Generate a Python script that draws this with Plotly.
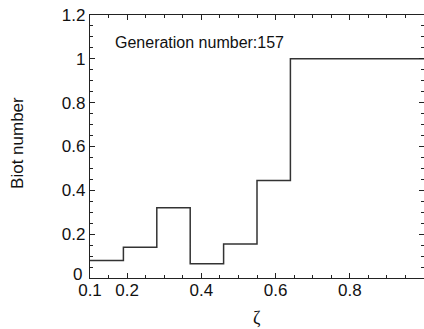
import plotly.graph_objects as go

# Step edges along zeta and the Biot number held on each interval
zeta_edges = [0.1, 0.19, 0.28, 0.37, 0.46, 0.55, 0.64, 1.0]
biot_values = [0.08, 0.14, 0.32, 0.065, 0.155, 0.445, 1.0]

x_tick_vals = [0.1, 0.2, 0.4, 0.6, 0.8, 1.0]
x_tick_text = ["0.1", "0.2", "0.4", "0.6", "0.8", "1"]
y_tick_vals = [0.2, 0.4, 0.6, 0.8, 1.0, 1.2]
y_tick_text = ["0.2", "0.4", "0.6", "0.8", "1", "1.2"]
y_origin_label = "0"

generation = 157

FONT = "Arial, Liberation Sans, Helvetica, sans-serif"

fig = go.Figure()
fig.add_trace(go.Scatter(
    x=zeta_edges,
    y=biot_values + [biot_values[-1]],
    mode="lines",
    line=dict(shape="hv", color="#333333", width=1.5),
    showlegend=False,
    hoverinfo="skip",
))

axis_common = dict(
    showgrid=False, zeroline=False,
    showline=True, linecolor="#222222", linewidth=1.2,
    mirror="ticks", ticks="inside", ticklen=5, tickwidth=1, tickcolor="#222222",
    tickfont=dict(family=FONT, size=17, color="#111111"),
)

fig.update_xaxes(
    range=[0.1, 1.0],
    tickvals=x_tick_vals, ticktext=x_tick_text,
    ticklabelstandoff=-4,
    minor=dict(ticks="inside", ticklen=3, dtick=0.05, tick0=0, tickcolor="#222222"),
    **axis_common,
)
fig.update_yaxes(
    range=[0, 1.2],
    tickvals=y_tick_vals, ticktext=y_tick_text,
    minor=dict(ticks="inside", ticklen=3, dtick=0.05, tick0=0, tickcolor="#222222"),
    **axis_common,
)

# origin label sits slightly up and left of the corner, clear of "0.1"
fig.add_annotation(
    x=0, y=0, xref="paper", yref="y",
    text=y_origin_label, showarrow=False,
    xanchor="right", yanchor="middle", xshift=-6, yshift=4,
    font=dict(family=FONT, size=17, color="#111111"),
)
fig.add_annotation(
    x=0.162, y=1.073, xref="x", yref="y",
    text=f"Generation number:{generation}",
    showarrow=False, xanchor="left", yanchor="middle",
    font=dict(family=FONT, size=16, color="#111111"),
)
fig.add_annotation(
    x=0.5, y=-0.152, xref="paper", yref="paper",
    text="ζ", showarrow=False, xanchor="center", yanchor="middle",
    font=dict(family="Times New Roman, Liberation Serif, serif", size=18, color="#111111"),
)
fig.add_annotation(
    x=-0.219, y=0.513, xref="paper", yref="paper",
    text="Biot number", showarrow=False, textangle=-90,
    xanchor="center", yanchor="middle",
    font=dict(family=FONT, size=17, color="#111111"),
)

fig.update_layout(
    width=424, height=329,
    margin=dict(l=90, r=0, t=15, b=51),
    paper_bgcolor="white", plot_bgcolor="white",
)

fig.write_html("out.html")
